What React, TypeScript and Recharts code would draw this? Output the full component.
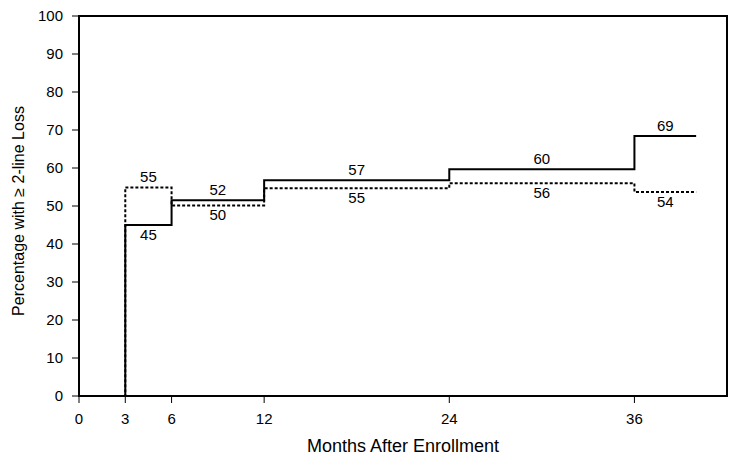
import { LineChart, Line, XAxis, YAxis, ReferenceArea, ReferenceDot } from 'recharts';

const months = [0, 3, 6, 12, 24, 36, 40];
const solidPct = [0, 45, 51.5, 56.8, 59.7, 68.4, 68.4];
const dashedPct = [0, 54.9, 50.1, 54.7, 56, 53.7, 53.7];

const xTicks = [0, 3, 6, 12, 24, 36];
const yTicks = [0, 10, 20, 30, 40, 50, 60, 70, 80, 90, 100];

// labels sit at the middle of each step
const labelMonths = [4.5, 9, 18, 30, 38];
const solidLabels = [45, 52, 57, 60, 69];
const dashedLabels = [55, 50, 55, 56, 54];
const solidLevels = [45, 51.5, 56.8, 59.7, 68.4];
const dashedLevels = [54.9, 50.1, 54.7, 56, 53.7];

const FONT = '"Liberation Sans", Arial, sans-serif';

export default function App() {
  const data = months.map((m, i) => ({ month: m, solid: solidPct[i], dashed: dashedPct[i] }));

  return (
    <div style={{ position: 'absolute', left: 0, top: 0, width: 743, height: 461, background: '#fff' }}>
      <LineChart width={743} height={461} data={data} margin={{ top: 16, right: 16, left: 0, bottom: 0 }}>
        <XAxis
          dataKey="month"
          type="number"
          domain={[0, 42]}
          ticks={xTicks}
          interval={0}
          tickSize={7}
          tickMargin={10}
          height={65}
          stroke="#000"
          tick={{ fill: '#000', fontSize: 15, fontFamily: FONT }}
          label={{ value: 'Months After Enrollment', position: 'insideBottom', offset: 9, style: { fill: '#000', fontSize: 18, fontFamily: FONT } }}
        />
        <YAxis
          type="number"
          domain={[0, 100]}
          ticks={yTicks}
          interval={0}
          width={79}
          tickSize={7}
          tickMargin={9}
          stroke="#000"
          tick={{ fill: '#000', fontSize: 15, fontFamily: FONT }}
          label={{ value: 'Percentage with \u2265 2-line Loss', angle: -90, position: 'insideLeft', offset: 18, dy: 5, style: { textAnchor: 'middle', fill: '#000', fontSize: 16, fontFamily: FONT } }}
        />
        <ReferenceArea x1={0} x2={42} y1={0} y2={100} fill="none" stroke="#000" strokeWidth={2} ifOverflow="visible" />
        <Line type="stepAfter" dataKey="dashed" stroke="#000" strokeWidth={2} strokeDasharray="3 2" dot={false} isAnimationActive={false} />
        <Line type="stepAfter" dataKey="solid" stroke="#000" strokeWidth={2} dot={false} isAnimationActive={false} />
        {labelMonths.map((m, i) => (
          <ReferenceDot
            key={'s' + i}
            x={m}
            y={solidLevels[i]}
            r={0}
            fill="none"
            stroke="none"
            label={{ value: String(solidLabels[i]), position: i === 0 ? 'bottom' : 'top', offset: i === 0 ? 4 : 5, style: { fill: '#000', fontSize: 15, fontFamily: FONT } }}
          />
        ))}
        {labelMonths.map((m, i) => (
          <ReferenceDot
            key={'d' + i}
            x={m}
            y={dashedLevels[i]}
            r={0}
            fill="none"
            stroke="none"
            label={{ value: String(dashedLabels[i]), position: i === 0 ? 'top' : 'bottom', offset: i === 0 ? 5 : 4, style: { fill: '#000', fontSize: 15, fontFamily: FONT } }}
          />
        ))}
      </LineChart>
    </div>
  );
}
